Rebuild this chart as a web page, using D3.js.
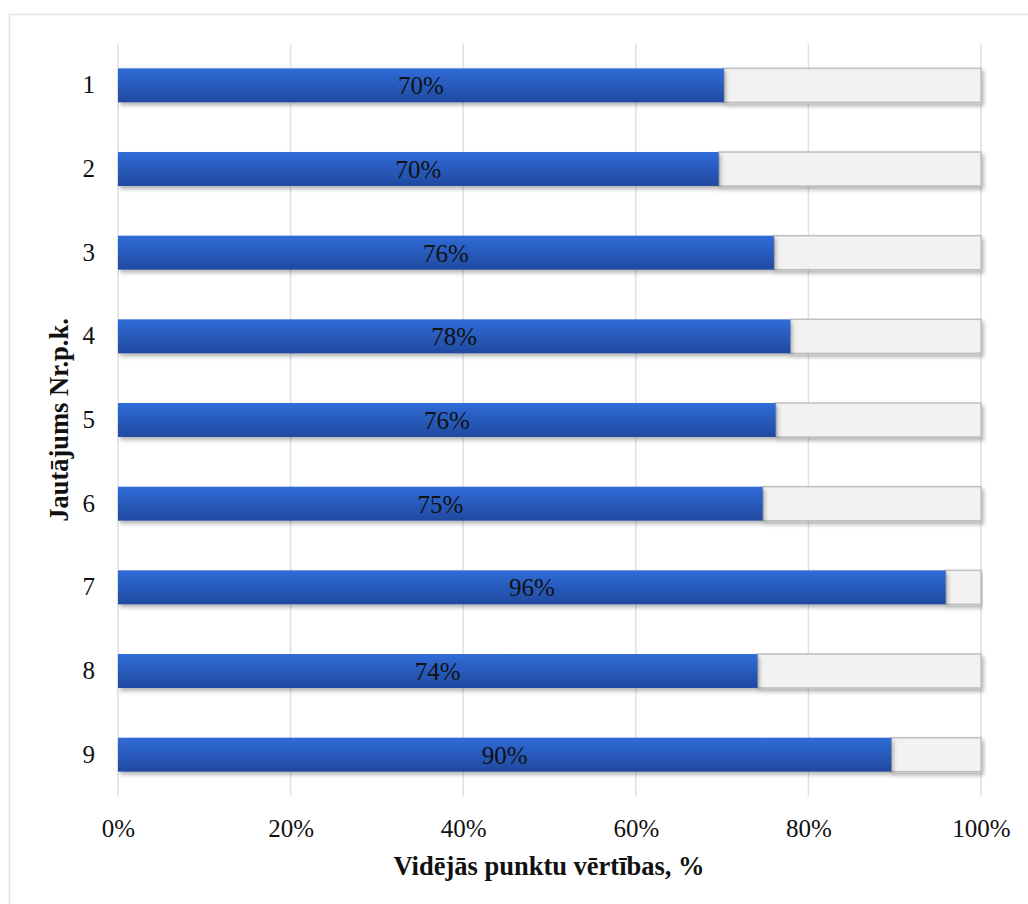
<!DOCTYPE html>
<html>
<head>
<meta charset="utf-8">
<script src="https://cdn.jsdelivr.net/npm/d3@7"></script>
<style>
  html, body { margin: 0; padding: 0; background: #fff; }
  svg { display: block; font-family: "Liberation Serif", "Times New Roman", serif; }
</style>
</head>
<body>
<svg id="chart" width="1028" height="904"></svg>
<script>
// Question numbers and average score shares
const questions = ["1", "2", "3", "4", "5", "6", "7", "8", "9"];
const scores = [0.702, 0.696, 0.760, 0.779, 0.762, 0.747, 0.959, 0.741, 0.896];
const xTicks = [0, 0.2, 0.4, 0.6, 0.8, 1.0];
const xTitle = "Vidējās punktu vērtības, %";
const yTitle = "Jautājums Nr.p.k.";

const svg = d3.select("#chart");
const margin = { left: 118, right: 47, top: 43.5, bottom: 107.5 };
const W = 1028, H = 904;

const x = d3.scaleLinear().domain([0, 1]).range([margin.left, W - margin.right]);
const y = d3.scaleBand().domain(questions).range([margin.top, H - margin.bottom]).paddingInner(0.594).paddingOuter(0.297);

const defs = svg.append("defs");
const grad = defs.append("linearGradient").attr("id", "barBlue")
  .attr("x1", 0).attr("y1", 0).attr("x2", 0).attr("y2", 1);
grad.append("stop").attr("offset", "0%").attr("stop-color", "#306cd8");
grad.append("stop").attr("offset", "100%").attr("stop-color", "#2149a0");

const shadow = defs.append("filter").attr("id", "shadow")
  .attr("x", "-5%").attr("y", "-30%").attr("width", "110%").attr("height", "180%");
shadow.append("feDropShadow").attr("dx", 2).attr("dy", 3).attr("stdDeviation", 2)
  .attr("flood-color", "#000").attr("flood-opacity", 0.3);

// Chart frame
svg.append("rect").attr("x", 9.5).attr("y", 14.5).attr("width", 1040).attr("height", 900)
  .attr("fill", "none").attr("stroke", "#e1e4ea").attr("stroke-width", 1.5);

// Vertical gridlines
svg.append("g").selectAll("line").data(xTicks).join("line")
  .attr("x1", d => x(d)).attr("x2", d => x(d))
  .attr("y1", margin.top).attr("y2", H - margin.bottom)
  .attr("stroke", "#dde2ea").attr("stroke-width", 1.5);

const rows = svg.append("g").selectAll("g").data(questions).join("g");

// Remainder up to 100%
rows.append("rect")
  .attr("x", (d, i) => x(scores[i]))
  .attr("y", d => y(d))
  .attr("width", (d, i) => x(1) - x(scores[i]))
  .attr("height", y.bandwidth())
  .attr("fill", "#f2f2f2").attr("stroke", "#bfbfbf").attr("stroke-width", 1.5)
  .attr("filter", "url(#shadow)");

// Score bars
rows.append("rect")
  .attr("x", x(0))
  .attr("y", d => y(d))
  .attr("width", (d, i) => x(scores[i]) - x(0))
  .attr("height", y.bandwidth())
  .attr("fill", "url(#barBlue)")
  .attr("filter", "url(#shadow)");

// Value labels
const fmt = d3.format(".0%");
rows.append("text")
  .attr("x", (d, i) => (x(0) + x(scores[i])) / 2)
  .attr("y", d => y(d) + y.bandwidth() / 2)
  .attr("dy", "0.36em")
  .attr("text-anchor", "middle")
  .attr("font-size", 25)
  .attr("fill", "#111")
  .text((d, i) => fmt(scores[i]));

// X axis labels
const xAxis = svg.append("g").attr("transform", `translate(0,${H - margin.bottom})`)
  .call(d3.axisBottom(x).tickValues(xTicks).tickFormat(d3.format(".0%")).tickSize(0).tickPadding(23));
xAxis.select(".domain").remove();
xAxis.selectAll("text").attr("font-size", 25).attr("fill", "#111")
  .attr("font-family", "Liberation Serif, Times New Roman, serif");

// Y axis labels
const yAxis = svg.append("g").attr("transform", `translate(${margin.left},0)`)
  .call(d3.axisLeft(y).tickSize(0).tickPadding(23));
yAxis.select(".domain").remove();
yAxis.selectAll("text").attr("font-size", 25).attr("fill", "#111")
  .attr("font-family", "Liberation Serif, Times New Roman, serif");

// Axis titles
svg.append("text").attr("x", 549).attr("y", 875).attr("text-anchor", "middle")
  .attr("font-size", 26.5).attr("font-weight", "bold").attr("fill", "#111").text(xTitle);
svg.append("text").attr("transform", `translate(68,420) rotate(-90)`).attr("text-anchor", "middle")
  .attr("font-size", 26.5).attr("font-weight", "bold").attr("fill", "#111").text(yTitle);
</script>
</body>
</html>
